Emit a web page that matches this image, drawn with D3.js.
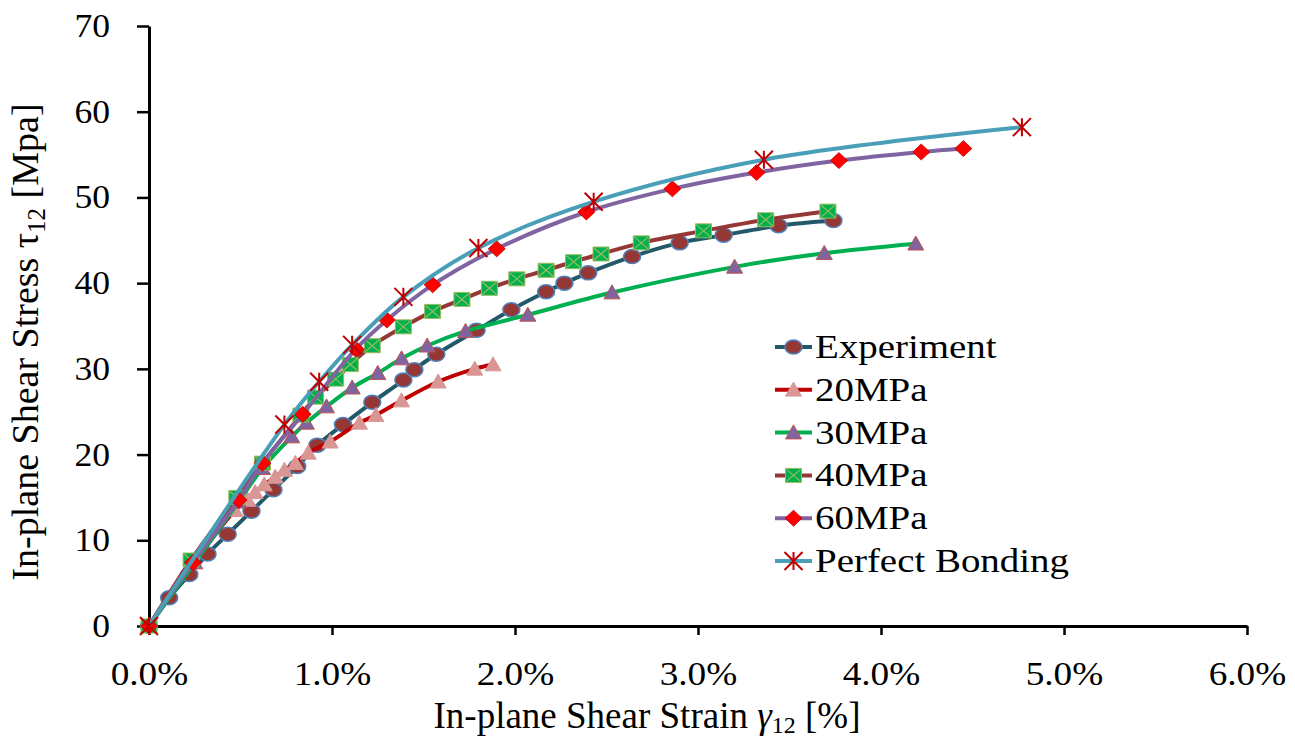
<!DOCTYPE html>
<html>
<head>
<meta charset="utf-8">
<script src="https://cdn.jsdelivr.net/npm/d3@7"></script>
<style>
  body { margin: 0; background: #fff; }
  text { font-family: "Liberation Serif", "Times New Roman", serif; fill: #000; }
</style>
</head>
<body>
<div id="chart"></div>
<script>
// values: [strain %, stress MPa]
const experiment = [[0,0],[0.11,3.3],[0.22,6.0],[0.32,8.4],[0.43,10.7],[0.56,13.4],[0.68,15.9],[0.81,18.6],
    [0.92,21.1],[1.06,23.5],[1.22,26.1],[1.39,28.7],[1.45,29.9],[1.57,31.7],[1.79,34.5],[1.98,36.9],
    [2.17,39.0],[2.27,40.0],[2.40,41.2],[2.64,43.1],[2.90,44.7],[3.14,45.6],[3.44,46.7],[3.74,47.3]];
const mpa20 = [[0,0],[0.47,13.5],[0.54,14.7],[0.58,15.6],[0.63,16.5],[0.69,17.4],[0.74,18.2],[0.80,19.0],
    [0.87,20.2],[0.99,21.5],[1.15,23.7],[1.24,24.6],[1.38,26.3],[1.58,28.5],[1.78,30.0],[1.88,30.5]];
const mpa30 = [[0,0],[0.25,7.4],[0.49,14.5],[0.62,18.4],[0.78,22.1],[0.86,23.7],[0.97,25.6],[1.11,27.8],
    [1.25,29.5],[1.38,31.2],[1.52,32.7],[1.73,34.4],[2.07,36.3],[2.53,38.9],[3.20,41.9],[3.69,43.5],[4.19,44.6]];
const mpa40 = [[0,0],[0.23,7.7],[0.48,15.0],[0.62,19.0],[0.83,24.6],[0.91,26.7],[1.02,28.8],[1.10,30.5],
    [1.22,32.7],[1.39,34.9],[1.55,36.7],[1.71,38.1],[1.86,39.4],[2.01,40.5],[2.17,41.5],[2.32,42.5],
    [2.47,43.4],[2.69,44.7],[3.03,46.1],[3.37,47.4],[3.71,48.4]];
const mpa60 = [[0,0],[0.24,7.4],[0.49,14.7],[0.62,19.0],[0.84,24.7],[1.13,32.3],[1.30,35.7],[1.55,39.8],
    [1.90,44.0],[2.39,48.3],[2.86,51.0],[3.32,52.9],[3.77,54.3],[4.22,55.3],[4.45,55.7]];
const perfect = [[0,0],[0.74,23.5],[0.93,28.5],[1.11,32.8],[1.39,38.4],[1.80,44.1],[2.43,49.5],[3.36,54.4],[4.77,58.2]];

const seriesNames = ['Experiment', '20MPa', '30MPa', '40MPa', '60MPa', 'Perfect Bonding'];
const xTicks = [0, 1, 2, 3, 4, 5, 6];
const yTicks = [0, 10, 20, 30, 40, 50, 60, 70];

const width = 1295, height = 738;

const svg = d3.select('#chart')
    .append('svg')
    .attr('width', width)
    .attr('height', height);

svg.append('rect').attr('width', width).attr('height', height).attr('fill', '#fff');

const x = d3.scaleLinear().domain([0, 6]).range([149, 1247]);
const y = d3.scaleLinear().domain([0, 70]).range([626, 26]);

// marker shapes (slightly wider than tall, like the original)
const shapes = {
    circle: (w, h) => `M${-w/2},0A${w/2},${h/2} 0 1,0 ${w/2},0A${w/2},${h/2} 0 1,0 ${-w/2},0Z`,
    triangle: (w, h) => `M0,${-h*0.55}L${w/2},${h*0.45}L${-w/2},${h*0.45}Z`,
    square: (w, h) => `M${-w/2},${-h/2}h${w}v${h}h${-w}Z`,
    diamond: (w, h) => `M0,${-h/2}L${w/2},0L0,${h/2}L${-w/2},0Z`,
    star: (w, h) => `M${-w/2},${-h/2}L${w/2},${h/2}M${w/2},${-h/2}L${-w/2},${h/2}M0,${-h/2}V${h/2}`
};

const series = [
    { name: seriesNames[0], data: experiment, line: '#215968', shape: 'circle', w: 17, h: 14, fill: '#953735', stroke: '#4f81bd', sw: 1.5 },
    { name: seriesNames[1], data: mpa20, line: '#c00000', shape: 'triangle', w: 16, h: 14, fill: '#d99694', stroke: '#d99694', sw: 1 },
    { name: seriesNames[2], data: mpa30, line: '#00b050', shape: 'triangle', w: 16, h: 14, fill: '#8064a2', stroke: '#c0504d', sw: 1 },
    { name: seriesNames[3], data: mpa40, line: '#953735', shape: 'square', w: 16, h: 14, fill: '#00b050', stroke: '#9bbb59', sw: 1, cross: true },
    { name: seriesNames[4], data: mpa60, line: '#8064a2', shape: 'diamond', w: 17, h: 16, fill: '#ff0000', stroke: '#c00000', sw: 0.8 },
    { name: seriesNames[5], data: perfect, line: '#4a9fb8', shape: 'star', w: 18, h: 18, fill: 'none', stroke: '#c00000', sw: 2 }
];

// axes
const xAxis = svg.append('g')
    .attr('transform', 'translate(0,' + y(0) + ')')
    .call(d3.axisBottom(x).tickValues(xTicks).tickSize(9).tickSizeOuter(0)
        .tickFormat(d => d.toFixed(1) + '%'));
xAxis.select('.domain').attr('stroke', '#000').attr('stroke-width', 3);
xAxis.selectAll('.tick line').attr('stroke', '#000').attr('stroke-width', 2.5);
xAxis.selectAll('.tick text')
    .attr('y', 59).attr('dy', null)
    .attr('font-size', 33)
    .attr('transform', 'scale(1.13,1)');

const yAxis = svg.append('g')
    .attr('transform', 'translate(' + x(0) + ',0)')
    .call(d3.axisLeft(y).tickValues(yTicks).tickSize(12).tickSizeOuter(0));
yAxis.select('.domain').attr('stroke', '#000').attr('stroke-width', 3);
yAxis.selectAll('.tick line').attr('stroke', '#000').attr('stroke-width', 2.5);
yAxis.selectAll('.tick text')
    .attr('x', -36)
    .attr('font-size', 33)
    .attr('transform', 'scale(1.08,1)');

// axis titles
const xTitle = svg.append('text')
    .attr('x', 647).attr('y', 728)
    .attr('text-anchor', 'middle')
    .attr('font-size', 37);
xTitle.append('tspan').text('In-plane Shear Strain ');
xTitle.append('tspan').attr('font-style', 'italic').text('γ');
xTitle.append('tspan').attr('font-size', 24).attr('dy', 5).text('12');
xTitle.append('tspan').attr('dy', -5).text(' [%]');

const yTitle = svg.append('text')
    .attr('transform', 'translate(38,342) rotate(-90)')
    .attr('text-anchor', 'middle')
    .attr('font-size', 38);
yTitle.append('tspan').text('In-plane Shear Stress τ');
yTitle.append('tspan').attr('font-size', 25).attr('dy', 7).text('12');
yTitle.append('tspan').attr('dy', -7).text(' [Mpa]');

// series
const line = d3.line()
    .x(d => x(d[0]))
    .y(d => y(d[1]))
    .curve(d3.curveCatmullRom);

function drawMarker(g, s) {
    g.append('path')
        .attr('d', shapes[s.shape](s.w, s.h))
        .attr('fill', s.fill)
        .attr('stroke', s.stroke)
        .attr('stroke-width', s.sw);
    if (s.cross) {
        g.append('path')
            .attr('d', `M${-s.w/2+1},${-s.h/2+1}L${s.w/2-1},${s.h/2-1}M${s.w/2-1},${-s.h/2+1}L${-s.w/2+1},${s.h/2-1}`)
            .attr('stroke', '#9bbb59')
            .attr('stroke-width', 1.2);
    }
}

series.forEach(s => {
    svg.append('path')
        .datum(s.data)
        .attr('fill', 'none')
        .attr('stroke', s.line)
        .attr('stroke-width', 4)
        .attr('d', line);

    svg.append('g')
        .selectAll('g')
        .data(s.data)
        .enter()
        .append('g')
        .attr('transform', d => 'translate(' + x(d[0]) + ',' + y(d[1]) + ')')
        .each(function () { drawMarker(d3.select(this), s); });
});

// legend
const legend = svg.append('g').attr('transform', 'translate(775,347)');
series.forEach((s, i) => {
    const row = legend.append('g').attr('transform', 'translate(0,' + (i * 42.8) + ')');
    row.append('line')
        .attr('x1', 0).attr('x2', 37)
        .attr('stroke', s.line)
        .attr('stroke-width', 4);
    drawMarker(row.append('g').attr('transform', 'translate(18.5,0)'), s);
    row.append('text')
        .attr('transform', 'translate(40,11) scale(1.18,1)')
        .attr('font-size', 33)
        .text(s.name);
});
</script>
</body>
</html>
